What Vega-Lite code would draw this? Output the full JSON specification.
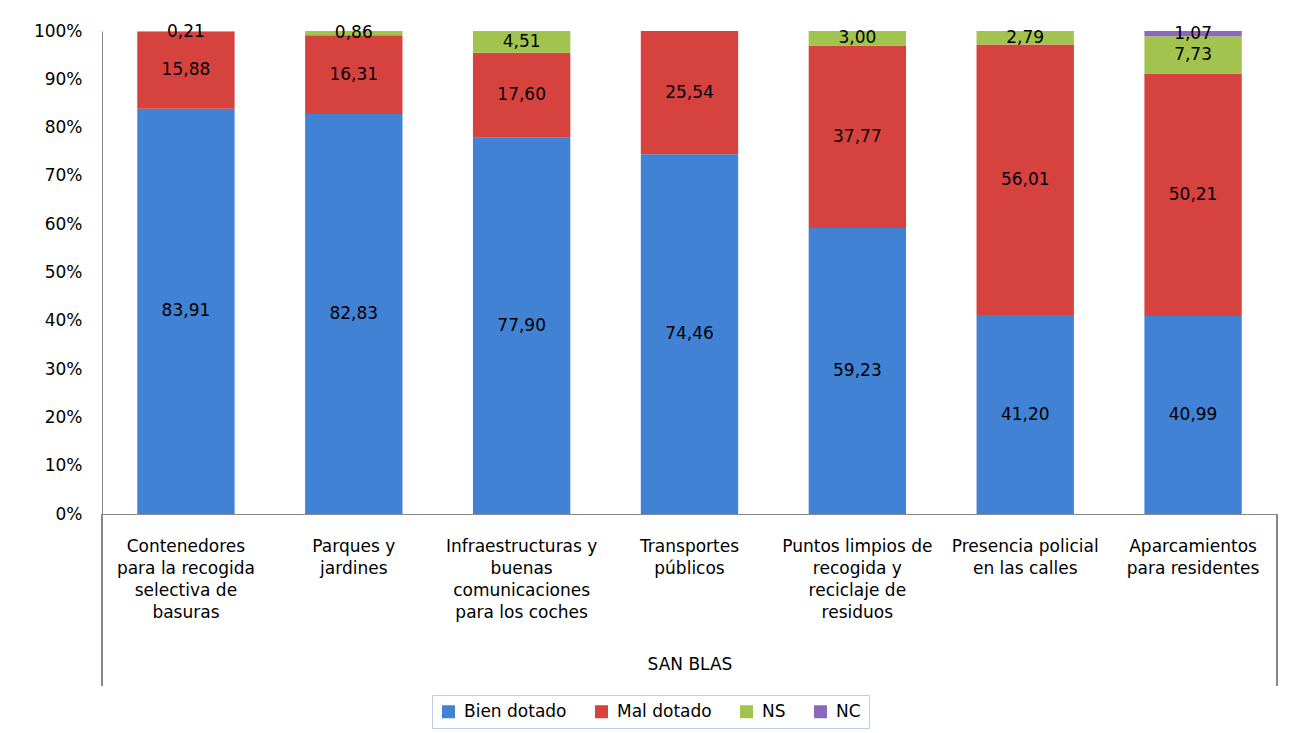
{
  "$schema": "https://vega.github.io/schema/vega-lite/v6.json",
  "autosize": "none",
  "width": 1175,
  "height": 483,
  "padding": {"left": 102, "top": 31, "right": 27, "bottom": 219},
  "background": "white",
  "config": {
    "locale": {"number": {"decimal": ",", "thousands": ".", "grouping": [3], "currency": ["", " €"]}},
    "view": {"stroke": null},
    "font": "DejaVu Sans",
    "axis": {"labelFont": "DejaVu Sans", "titleFont": "DejaVu Sans", "labelColor": "black", "titleColor": "black", "domainColor": "#888888", "grid": false}
  },
  "data": {"values": [
    {"cat": "Contenedores|para la recogida|selectiva de|basuras", "serie": "Bien dotado", "valor": 83.91},
    {"cat": "Contenedores|para la recogida|selectiva de|basuras", "serie": "Mal dotado", "valor": 15.88},
    {"cat": "Contenedores|para la recogida|selectiva de|basuras", "serie": "NS", "valor": 0.21},
    {"cat": "Parques y|jardines", "serie": "Bien dotado", "valor": 82.83},
    {"cat": "Parques y|jardines", "serie": "Mal dotado", "valor": 16.31},
    {"cat": "Parques y|jardines", "serie": "NS", "valor": 0.86},
    {"cat": "Infraestructuras y|buenas|comunicaciones|para los coches", "serie": "Bien dotado", "valor": 77.90},
    {"cat": "Infraestructuras y|buenas|comunicaciones|para los coches", "serie": "Mal dotado", "valor": 17.60},
    {"cat": "Infraestructuras y|buenas|comunicaciones|para los coches", "serie": "NS", "valor": 4.51},
    {"cat": "Transportes|públicos", "serie": "Bien dotado", "valor": 74.46},
    {"cat": "Transportes|públicos", "serie": "Mal dotado", "valor": 25.54},
    {"cat": "Puntos limpios de|recogida y|reciclaje de|residuos", "serie": "Bien dotado", "valor": 59.23},
    {"cat": "Puntos limpios de|recogida y|reciclaje de|residuos", "serie": "Mal dotado", "valor": 37.77},
    {"cat": "Puntos limpios de|recogida y|reciclaje de|residuos", "serie": "NS", "valor": 3.00},
    {"cat": "Presencia policial|en las calles", "serie": "Bien dotado", "valor": 41.20},
    {"cat": "Presencia policial|en las calles", "serie": "Mal dotado", "valor": 56.01},
    {"cat": "Presencia policial|en las calles", "serie": "NS", "valor": 2.79},
    {"cat": "Aparcamientos|para residentes", "serie": "Bien dotado", "valor": 40.99},
    {"cat": "Aparcamientos|para residentes", "serie": "Mal dotado", "valor": 50.21},
    {"cat": "Aparcamientos|para residentes", "serie": "NS", "valor": 7.73},
    {"cat": "Aparcamientos|para residentes", "serie": "NC", "valor": 1.07}
  ]},
  "transform": [
    {"calculate": "indexof(['Bien dotado','Mal dotado','NS','NC'], datum.serie)", "as": "orden"},
    {"stack": "valor", "groupby": ["cat"], "sort": [{"field": "orden", "order": "ascending"}], "offset": "normalize", "as": ["y0", "y1"]},
    {"calculate": "(datum.y0 + datum.y1) / 2", "as": "ymid"}
  ],
  "layer": [
    {
      "mark": {"type": "bar"},
      "encoding": {
        "x": {
          "field": "cat", "type": "nominal", "sort": null,
          "scale": {"paddingInner": 0.42, "paddingOuter": 0.21},
          "axis": {
            "title": "SAN BLAS", "titleFontSize": 17, "titleFontWeight": "normal", "titlePadding": 36,
            "labelExpr": "split(datum.label, '|')", "labelAngle": 0, "labelFontSize": 17, "labelLineHeight": 22.3,
            "labelPadding": 24, "ticks": false, "labelLimit": 300, "domainColor": "#888888"
          }
        },
        "y": {
          "field": "y0", "type": "quantitative",
          "scale": {"domain": [0, 1], "nice": false},
          "axis": {"title": null, "format": ".0%", "values": [0, 0.1, 0.2, 0.3, 0.4, 0.5, 0.6, 0.7, 0.8, 0.9, 1], "labelFontSize": 17, "ticks": false, "labelPadding": 20}
        },
        "y2": {"field": "y1"},
        "color": {
          "field": "serie", "type": "nominal",
          "scale": {"domain": ["Bien dotado", "Mal dotado", "NS", "NC"], "range": ["#4282d4", "#d6433f", "#a2c44e", "#8c68bc"]},
          "legend": {
            "title": null, "orient": "none", "direction": "horizontal", "legendX": 330, "legendY": 664,
            "symbolType": "square", "symbolSize": 169, "symbolStrokeWidth": 0, "labelFontSize": 17, "labelFont": "DejaVu Sans",
            "labelColor": "black", "columnPadding": 26, "labelOffset": 7, "padding": 8,
            "strokeColor": "#b9cde5", "fillColor": "white"
          }
        }
      }
    },
    {
      "mark": {"type": "text", "fontSize": 17, "color": "black", "baseline": "middle", "align": "center"},
      "encoding": {
        "x": {"field": "cat", "type": "nominal", "sort": null},
        "y": {"field": "ymid", "type": "quantitative"},
        "text": {"field": "valor", "type": "quantitative", "format": ".2f"}
      }
    },
    {
      "mark": {"type": "rule", "color": "#888888"},
      "encoding": {
        "x": {"datum": "Contenedores|para la recogida|selectiva de|basuras", "bandPosition": -0.362},
        "y": {"datum": 0},
        "y2": {"datum": -0.356}
      }
    },
    {
      "mark": {"type": "rule", "color": "#888888"},
      "encoding": {
        "x": {"datum": "Aparcamientos|para residentes", "bandPosition": 1.362},
        "y": {"datum": 0},
        "y2": {"datum": -0.356}
      }
    }
  ]
}
